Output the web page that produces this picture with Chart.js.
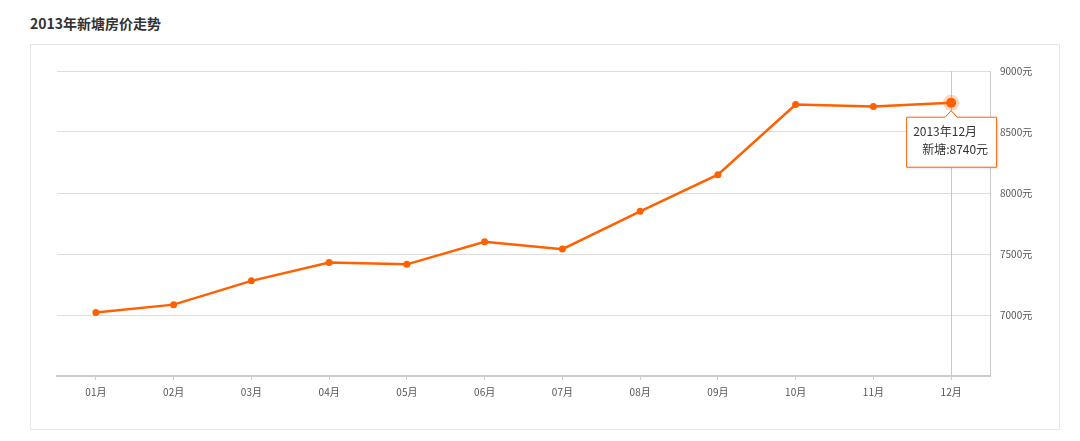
<!DOCTYPE html>
<html><head><meta charset="utf-8">
<script src="https://cdn.jsdelivr.net/npm/chart.js@4"></script>
<style>
html,body{margin:0;padding:0;background:#fff;width:1080px;height:441px;overflow:hidden;font-family:"Noto Sans CJK SC","Noto Sans",sans-serif;}
#title{position:absolute;left:30px;top:13px;font-size:14px;font-weight:bold;color:#333;}
#box{position:absolute;left:30px;top:44px;width:1028px;height:384px;border:1px solid #e6e6e6;}
#box canvas{position:absolute;left:0;top:0;}
</style></head>
<body>
<div id="title">2013年新塘房价走势</div>
<div id="box"><canvas id="c" width="1028" height="384"></canvas></div>
<script>
const year = '2013';
const seriesName = '新塘';
const months = ['01月','02月','03月','04月','05月','06月','07月','08月','09月','10月','11月','12月'];
const prices = [7020, 7085, 7280, 7430, 7415, 7600, 7540, 7850, 8150, 8725, 8710, 8740];
const yTicks = [6500, 7000, 7500, 8000, 8500, 9000];
const activeIndex = 11;
const orange = '#ff6000';
const font = '"Noto Sans CJK SC","Noto Sans",sans-serif';

const tipPlugin = {
  id:'tip',
  afterDatasetsDraw(chart){
    const ctx = chart.ctx;
    const meta = chart.getDatasetMeta(0);
    const pt = meta.data[activeIndex];
    const area = chart.chartArea;
    const x = Math.round(pt.x)+0.5, y = pt.y;
    ctx.save();
    ctx.strokeStyle = '#c8c8c8'; ctx.lineWidth = 1;
    ctx.beginPath(); ctx.moveTo(x, area.top); ctx.lineTo(x, area.bottom); ctx.stroke();
    ctx.fillStyle = 'rgba(255,96,0,0.25)';
    ctx.beginPath(); ctx.arc(pt.x, y, 8, 0, Math.PI*2); ctx.fill();
    ctx.fillStyle = orange;
    ctx.beginPath(); ctx.arc(pt.x, y, 5, 0, Math.PI*2); ctx.fill();
    const bx = pt.x - 45, by = y + 14, bw = 90, bh = 50;
    ctx.beginPath();
    ctx.moveTo(bx+0.5, by+0.5);
    ctx.lineTo(pt.x-6, by+0.5);
    ctx.lineTo(pt.x, by-6);
    ctx.lineTo(pt.x+6, by+0.5);
    ctx.lineTo(bx+bw+0.5, by+0.5);
    ctx.lineTo(bx+bw+0.5, by+bh+0.5);
    ctx.lineTo(bx+0.5, by+bh+0.5);
    ctx.closePath();
    ctx.shadowColor='rgba(0,0,0,0.15)'; ctx.shadowBlur=3; ctx.shadowOffsetX=1; ctx.shadowOffsetY=1;
    ctx.fillStyle = '#fff'; ctx.fill();
    ctx.shadowColor='transparent';
    ctx.strokeStyle = orange; ctx.lineWidth = 1; ctx.stroke();
    ctx.fillStyle = '#333';
    ctx.font = '12px ' + font;
    ctx.textBaseline = 'middle';
    ctx.textAlign = 'left';
    ctx.fillText(year + '年' + months[activeIndex], bx+7, by+15);
    ctx.textAlign = 'right';
    ctx.fillText(seriesName + ':' + prices[activeIndex] + '元', bx+bw-8, by+33);
    ctx.restore();
  }
};

new Chart(document.getElementById('c'), {
  type:'line',
  data:{labels:months, datasets:[{
    data:prices, borderColor:orange, backgroundColor:orange, borderWidth:2.5,
    pointRadius:3.5, pointBackgroundColor:orange, pointBorderWidth:0, tension:0
  }]},
  options:{
    responsive:false, animation:false, devicePixelRatio:1,
    layout:{padding:{left:26, top:26, right:0, bottom:0}},
    plugins:{legend:{display:false}, tooltip:{enabled:false}},
    events:[],
    scales:{
      x:{
        offset:true,
        grid:{display:true, drawOnChartArea:false, drawTicks:true, tickLength:4, color:'#ccc', offset:false},
        border:{display:true, color:'#ccc', width:2},
        ticks:{color:'#555', font:{size:10, family:font}, padding:6, maxRotation:0, autoSkip:false},
        afterFit(s){ s.height = 53; }
      },
      y:{
        position:'right', min:6500, max:9000,
        afterBuildTicks(s){ s.ticks = yTicks.map(v=>({value:v})); },
        grid:{color:'#dddddd', drawTicks:false, lineWidth:1},
        border:{display:true, color:'#ccc', width:1},
        ticks:{color:'#555', font:{size:10, family:font}, padding:10,
          callback:(v)=> v===6500 ? '' : v + '元'},
        afterFit(s){ s.width = 69; }
      }
    }
  },
  plugins:[tipPlugin]
});
</script>
</body></html>
